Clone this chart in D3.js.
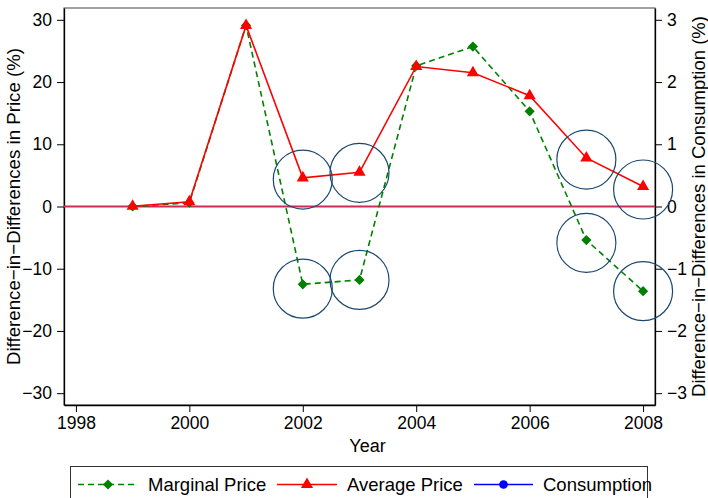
<!DOCTYPE html>
<html>
<head>
<meta charset="utf-8">
<script src="https://cdn.jsdelivr.net/npm/d3@7"></script>
<style>
  html, body { margin: 0; padding: 0; background: #fff; }
  svg { display: block; font-family: "Liberation Sans", Arial, Helvetica, sans-serif; }
</style>
</head>
<body>
<svg id="chart" width="708" height="498"></svg>
<script>
// Difference-in-differences estimates by year
const years = [1999, 2000, 2001, 2002, 2003, 2004, 2005, 2006, 2007, 2008];
const marginalPrice = [0.0, 0.6, 29.1, -12.5, -11.8, 22.6, 25.7, 15.3, -5.4, -13.6];
const averagePrice  = [0.05, 0.75, 29.1, 4.6, 5.5, 22.5, 21.5, 17.8, 7.8, 3.2];

// Highlight rings around selected years
const ringYears = [2002, 2003, 2007, 2008];
const ringUpper = [4.33, 5.41, 7.54, 2.73];
const ringLower = [-13.2, -11.8, -5.83, -13.6];

const xTicks = [1998, 2000, 2002, 2004, 2006, 2008];
const yLeftTicks = [-30, -20, -10, 0, 10, 20, 30];
const yRightTicks = [-3, -2, -1, 0, 1, 2, 3];

const legendItems = ["Marginal Price", "Average Price", "Consumption"];

const svg = d3.select("#chart");
const plotLeft = 64, plotRight = 655, plotTop = 8, plotBottom = 405;

const x = d3.scaleLinear().domain([1997.79, 2008.21]).range([plotLeft, plotRight]);
const y = d3.scaleLinear().domain([-31.9, 31.9]).range([plotBottom, plotTop]);
const y2 = d3.scaleLinear().domain([-3.19, 3.19]).range([plotBottom, plotTop]);

const fmt = d => d3.format("")(d).replace("-", "\u2212");

// Frame
svg.append("rect")
  .attr("x", plotLeft).attr("y", plotTop)
  .attr("width", plotRight - plotLeft).attr("height", plotBottom - plotTop)
  .attr("fill", "none").attr("stroke", "#444").attr("stroke-width", 1);

// Axes
const axisStyle = g => {
  g.selectAll("path.domain").attr("stroke", "#000").attr("stroke-width", 1.3);
  g.selectAll(".tick line").attr("stroke", "#000").attr("stroke-width", 1);
  g.selectAll(".tick text").attr("font-size", "17.5px").attr("fill", "#000")
    .attr("font-family", "'Liberation Sans', Arial, sans-serif");
};

svg.append("g")
  .attr("transform", `translate(0,${plotBottom})`)
  .call(d3.axisBottom(x).tickValues(xTicks).tickFormat(d3.format("d")).tickSizeInner(7).tickSizeOuter(0).tickPadding(5))
  .call(axisStyle);

svg.append("g")
  .attr("transform", `translate(${plotLeft},0)`)
  .call(d3.axisLeft(y).tickValues(yLeftTicks).tickFormat(fmt).tickSizeInner(7).tickSizeOuter(0).tickPadding(5))
  .call(axisStyle);

svg.append("g")
  .attr("transform", `translate(${plotRight},0)`)
  .call(d3.axisRight(y2).tickValues(yRightTicks).tickFormat(fmt).tickSizeInner(7).tickSizeOuter(0).tickPadding(5))
  .call(axisStyle);

// Axis titles
svg.append("text")
  .attr("x", (plotLeft + plotRight) / 2 + 8).attr("y", 452)
  .attr("text-anchor", "middle").attr("font-size", "18px")
  .text("Year");

svg.append("text")
  .attr("transform", `translate(20,${(plotTop + plotBottom) / 2}) rotate(-90)`)
  .attr("text-anchor", "middle").attr("font-size", "18.7px")
  .text("Difference\u2212in\u2212Differences in Price (%)");

svg.append("text")
  .attr("transform", `translate(705,${(plotTop + plotBottom) / 2}) rotate(-90)`)
  .attr("text-anchor", "middle").attr("font-size", "18.5px")
  .text("Difference\u2212in\u2212Differences in Consumption (%)");

// Zero reference line
svg.append("line")
  .attr("x1", plotLeft).attr("x2", plotRight)
  .attr("y1", y(0)).attr("y2", y(0))
  .attr("stroke", "#cc2d55").attr("stroke-width", 2);

// Series
const line = d3.line().x(d => x(d[0])).y(d => y(d[1]));
const marginalPts = years.map((yr, i) => [yr, marginalPrice[i]]);
const averagePts = years.map((yr, i) => [yr, averagePrice[i]]);

svg.append("path").datum(marginalPts)
  .attr("d", line).attr("fill", "none")
  .attr("stroke", "#008000").attr("stroke-width", 1.6)
  .attr("stroke-dasharray", "6,4");

svg.append("path").datum(averagePts)
  .attr("d", line).attr("fill", "none")
  .attr("stroke", "#ff0000").attr("stroke-width", 1.6);

// Square diamond (a square turned 45 degrees)
const diamond = d3.symbol().type(d3.symbolSquare).size(52);
const triangle = d3.symbol().type(d3.symbolTriangle).size(64);

svg.append("g").selectAll("path").data(marginalPts).join("path")
  .attr("d", diamond)
  .attr("transform", d => `translate(${x(d[0])},${y(d[1])}) rotate(45)`)
  .attr("fill", "#008000");

svg.append("g").selectAll("path").data(averagePts).join("path")
  .attr("d", triangle)
  .attr("transform", d => `translate(${x(d[0])},${y(d[1])})`)
  .attr("fill", "#ff0000");

// Rings
const ringPts = ringYears.flatMap((yr, i) => [[yr, ringUpper[i]], [yr, ringLower[i]]]);
svg.append("g").selectAll("circle").data(ringPts).join("circle")
  .attr("cx", d => x(d[0])).attr("cy", d => y(d[1]))
  .attr("r", 29.5)
  .attr("fill", "none").attr("stroke", "#1a476f").attr("stroke-width", 1.2);

// Legend
const lg = svg.append("g");
lg.append("rect")
  .attr("x", 70.5).attr("y", 466.5).attr("width", 577).attr("height", 60)
  .attr("fill", "#fff").attr("stroke", "#333").attr("stroke-width", 1);

const ly = 484.5;
const legendKeys = [
  { x0: 78, x1: 138, color: "#008000", dash: "6,4", sym: diamond, rot: 45, tx: 148 },
  { x0: 277, x1: 337, color: "#ff0000", dash: null, sym: triangle, rot: 0, tx: 347 },
  { x0: 474, x1: 533, color: "#0000ff", dash: null, sym: d3.symbol().type(d3.symbolCircle).size(60), rot: 0, tx: 543 }
];
legendKeys.forEach((k, i) => {
  lg.append("line")
    .attr("x1", k.x0).attr("x2", k.x1).attr("y1", ly).attr("y2", ly)
    .attr("stroke", k.color).attr("stroke-width", 1.6)
    .attr("stroke-dasharray", k.dash);
  lg.append("path")
    .attr("d", k.sym)
    .attr("transform", `translate(${(k.x0 + k.x1) / 2},${ly}) rotate(${k.rot})`)
    .attr("fill", k.color);
  lg.append("text")
    .attr("x", k.tx).attr("y", 491)
    .attr("font-size", "18.5px")
    .text(legendItems[i]);
});
</script>
</body>
</html>
